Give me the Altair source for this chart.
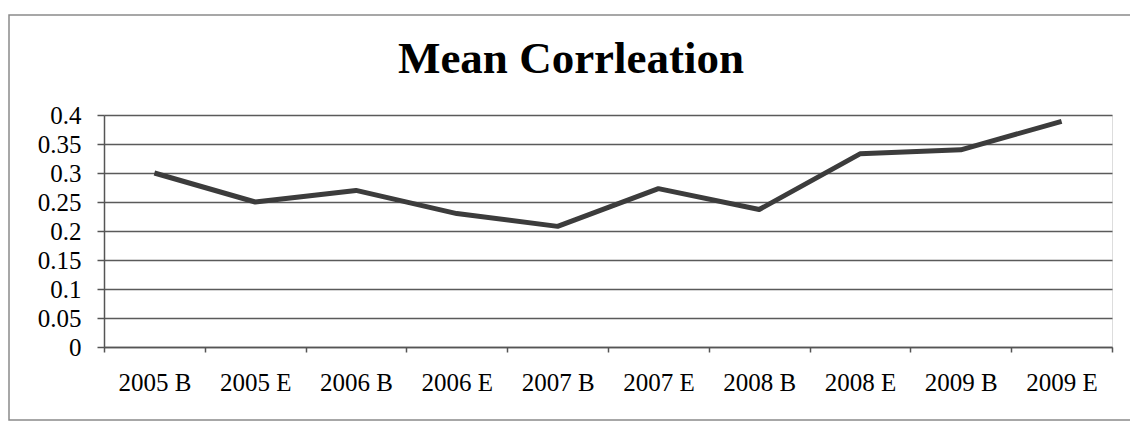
import altair as alt
import pandas as pd

periods = ["2005 B", "2005 E", "2006 B", "2006 E", "2007 B",
           "2007 E", "2008 B", "2008 E", "2009 B", "2009 E"]
mean_corr = [0.30, 0.25, 0.27, 0.23, 0.208, 0.273, 0.237, 0.333, 0.34, 0.389]
y_ticks = [0, 0.05, 0.1, 0.15, 0.2, 0.25, 0.3, 0.35, 0.4]

df = pd.DataFrame({"period": periods, "corr": mean_corr})

FONT = "Liberation Serif"

line = alt.Chart(df).mark_line(color="#3c3c3c", strokeWidth=5, strokeJoin="round").encode(
    x=alt.X("period:N", sort=periods, bandPosition=0.5,
            scale=alt.Scale(type="band", paddingInner=0, paddingOuter=0),
            axis=alt.Axis(title=None, labelAngle=0, labelFont=FONT, labelFontSize=25,
                          labelColor="black", labelPadding=18, tickBand="extent",
                          tickSize=5, tickColor="#555", tickWidth=1.5,
                          domainColor="#555", domainWidth=1.5, grid=False)),
    y=alt.Y("corr:Q", scale=alt.Scale(domain=[0, 0.4], nice=False),
            axis=alt.Axis(title=None, values=y_ticks, format=".2~f", labelFont=FONT,
                          labelFontSize=25, labelColor="black", labelPadding=16,
                          tickSize=7, tickColor="#555", tickWidth=1.5,
                          domainColor="#555", domainWidth=1.5,
                          grid=True, gridColor="#5a5a5a", gridWidth=1.5)),
)

frame = alt.Chart(pd.DataFrame({"a": [0]})).mark_rect(
    fill=None, stroke="#8a8a8a", strokeWidth=1.5
).encode(
    x=alt.value(-95), x2=alt.value(1060),
    y=alt.value(-100), y2=alt.value(305),
)

chart = alt.layer(frame, line).properties(
    width=1008, height=232,
    title=alt.TitleParams("Mean Corrleation", font=FONT, fontSize=45, fontWeight="bold",
                          color="black", anchor="middle", baseline="alphabetic",
                          dx=-37, dy=104, offset=0),
    autosize=alt.AutoSizeParams(type="none"),
    padding={"left": 104, "top": 115, "right": 18, "bottom": 76},
).configure_view(stroke=None).configure(background="white")

chart.save("out.html", embed_options={"renderer": "svg", "actions": False})
